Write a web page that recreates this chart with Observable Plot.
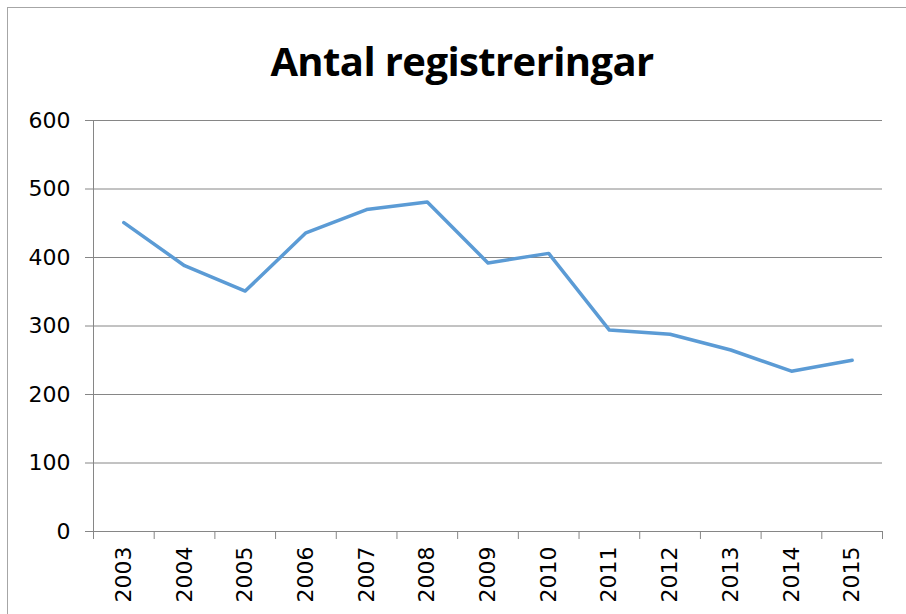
<!DOCTYPE html>
<html>
<head>
<meta charset="utf-8">
<script src="https://cdn.jsdelivr.net/npm/d3@7"></script>
<script src="https://cdn.jsdelivr.net/npm/@observablehq/plot@0.6"></script>
<style>
  html, body { margin: 0; padding: 0; background: #fff; }
  #wrap { position: relative; width: 906px; height: 614px; overflow: hidden; }
  #frame { position: absolute; left: 7px; top: 7px; width: 910px; height: 620px; border: 1px solid #a6a6a6; box-sizing: border-box; pointer-events: none; }
  #title { position: absolute; left: 0; top: 0; width: 924px; height: 100px; text-align: center;
           font-family: "Open Sans", sans-serif; font-weight: 700; font-size: 40px; line-height: 122px; color: #000; letter-spacing: -0.6px; }
  #chart { position: absolute; left: 0; top: 100px; }
</style>
</head>
<body>
<div id="wrap">
  <div id="title">Antal registreringar</div>
  <div id="chart"></div>
  <div id="frame"></div>
</div>
<script>
const years = [2003, 2004, 2005, 2006, 2007, 2008, 2009, 2010, 2011, 2012, 2013, 2014, 2015];
const counts = [451, 388, 351, 436, 470, 481, 392, 406, 294, 288, 265, 234, 250];
const yTicks = [0, 100, 200, 300, 400, 500, 600];

const data = years.map((y, i) => ({year: y, count: counts[i]}));
const boundaries = [...years.map(y => y - 0.5), years[years.length - 1] + 0.5];
const xMin = boundaries[0], xMax = boundaries[boundaries.length - 1];

const plot = Plot.plot({
  width: 906,
  height: 514,
  marginLeft: 93,
  marginRight: 24,
  marginTop: 20,
  marginBottom: 83,
  style: {fontFamily: "DejaVu Sans, sans-serif", fontSize: "22px", color: "#000", background: "transparent"},
  x: {type: "linear", domain: [xMin, xMax]},
  y: {domain: [0, 600]},
  marks: [
    Plot.ruleY(yTicks, {x1: xMin, x2: xMax, stroke: "#868686", strokeWidth: 1}),
    Plot.ruleX([xMin], {y1: 0, y2: 600, stroke: "#868686", strokeWidth: 1}),
    Plot.axisY({ticks: yTicks, tickSize: 8, tickPadding: 15, stroke: "#868686", strokeOpacity: 1, label: null, tickFormat: d => String(d), fontSize: 22}),
    Plot.axisX({ticks: boundaries, tickSize: 8, tickFormat: () => "", stroke: "#868686", strokeOpacity: 1, label: null}),
    Plot.axisX({ticks: years, tickSize: 0, tickPadding: 15, tickRotate: -90, tickFormat: d => String(d), label: null, fontSize: 22}),
    Plot.line(data, {x: "year", y: "count", stroke: "#5b9bd5", strokeWidth: 3.5, strokeLinejoin: "round", strokeLinecap: "round"})
  ]
});
document.getElementById("chart").appendChild(plot);
</script>
</body>
</html>
